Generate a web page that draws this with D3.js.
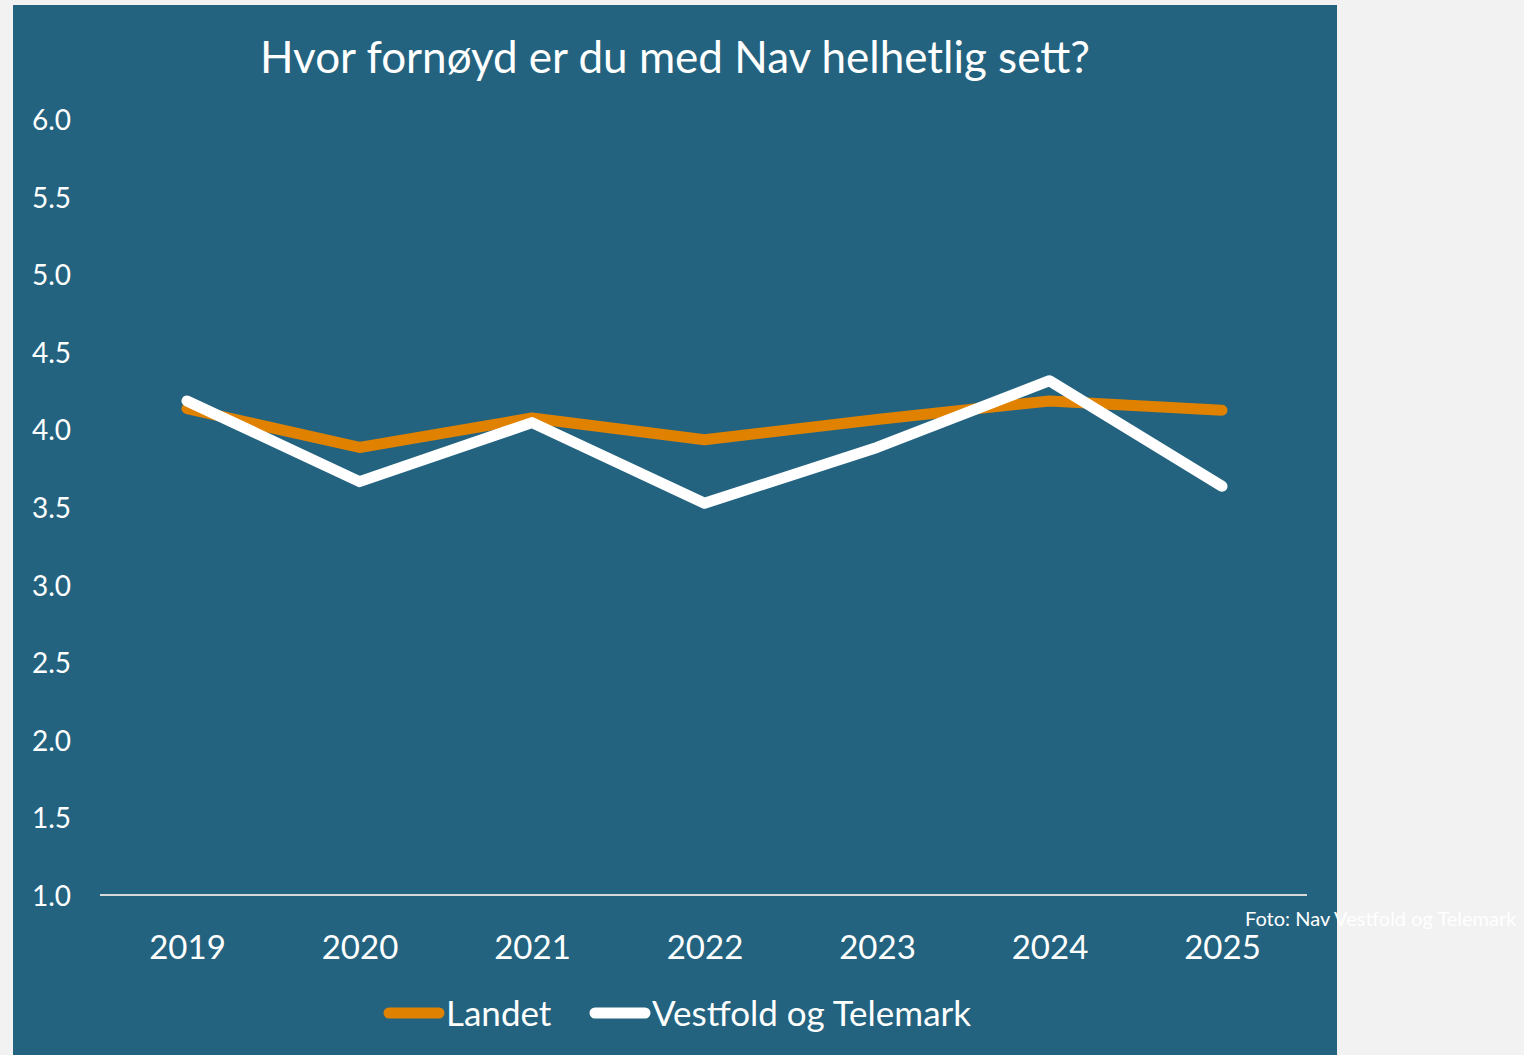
<!DOCTYPE html>
<html>
<head>
<meta charset="utf-8">
<script src="https://cdn.jsdelivr.net/npm/d3@7"></script>
<style>
  body { margin: 0; background: #f2f2f2; }
  svg { display: block; font-family: Lato, "Open Sans", sans-serif; }
</style>
</head>
<body>
<div id="chart"></div>
<script>
var years = ["2019", "2020", "2021", "2022", "2023", "2024", "2025"];
var landet = [4.14, 3.89, 4.08, 3.94, 4.07, 4.19, 4.13];
var vestfold = [4.19, 3.67, 4.05, 3.53, 3.89, 4.32, 3.64];
var yTicks = [1.0, 1.5, 2.0, 2.5, 3.0, 3.5, 4.0, 4.5, 5.0, 5.5, 6.0];

var svgWidth = 1524;
var svgHeight = 1055;

var svg = d3.select("#chart")
  .append("svg")
  .attr("width", svgWidth)
  .attr("height", svgHeight);

svg.append("rect")
  .attr("width", svgWidth).attr("height", svgHeight)
  .attr("fill", "#f2f2f2");

// dark panel
svg.append("rect")
  .attr("x", 13).attr("y", 5)
  .attr("width", 1324).attr("height", 1050)
  .attr("fill", "#23637f");

var x = d3.scalePoint()
  .domain(years)
  .range([187, 1222]);

var y = d3.scaleLinear()
  .domain([1, 6])
  .range([896, 120]);

// title
svg.append("text")
  .attr("x", 675).attr("y", 73)
  .attr("text-anchor", "middle")
  .attr("fill", "#fff")
  .style("font-size", "44px")
  .text("Hvor fornøyd er du med Nav helhetlig sett?");

// y axis labels
svg.append("g")
  .selectAll("text")
  .data(yTicks)
  .enter()
  .append("text")
  .attr("x", 71)
  .attr("y", d => y(d))
  .attr("dy", "0.36em")
  .attr("text-anchor", "end")
  .attr("fill", "#fff")
  .style("font-size", "28px")
  .text(d => d.toFixed(1));

// baseline
svg.append("line")
  .attr("x1", 100).attr("x2", 1307)
  .attr("y1", y(1) - 1).attr("y2", y(1) - 1)
  .attr("stroke", "#d9d9d9")
  .attr("stroke-width", 2);

// x labels
var xAxis = svg.append("g")
  .attr("transform", "translate(0, 896)")
  .call(d3.axisBottom(x).tickSize(0).tickPadding(0));
xAxis.select(".domain").remove();
xAxis.selectAll("text")
  .attr("y", 63)
  .attr("dy", 0)
  .attr("fill", "#fff")
  .style("font-family", "Lato, 'Open Sans', sans-serif")
  .style("font-size", "33px");

var line = d3.line()
  .x((d, i) => x(years[i]))
  .y(d => y(d));

svg.append("path")
  .datum(landet)
  .attr("d", line)
  .attr("fill", "none")
  .attr("stroke", "#e08200")
  .attr("stroke-width", 11)
  .attr("stroke-linecap", "round")
  .attr("stroke-linejoin", "round");

svg.append("path")
  .datum(vestfold)
  .attr("d", line)
  .attr("fill", "none")
  .attr("stroke", "#ffffff")
  .attr("stroke-width", 11)
  .attr("stroke-linecap", "round")
  .attr("stroke-linejoin", "round");

// legend
var legend = [
  { name: "Landet", color: "#e08200", x: 389 },
  { name: "Vestfold og Telemark", color: "#ffffff", x: 595 }
];
var lg = svg.append("g").selectAll("g")
  .data(legend)
  .enter()
  .append("g")
  .attr("transform", d => `translate(${d.x}, 1013)`);
lg.append("line")
  .attr("x1", 0).attr("x2", 50)
  .attr("stroke", d => d.color)
  .attr("stroke-width", 11)
  .attr("stroke-linecap", "round");
lg.append("text")
  .attr("x", 57)
  .attr("y", 13)
  .attr("fill", "#fff")
  .style("font-size", "35px")
  .text(d => d.name);

// photo credit
svg.append("text")
  .attr("x", 1245).attr("y", 926)
  .attr("fill", "#fff")
  .style("font-size", "20px")
  .text("Foto: Nav Vestfold og Telemark");
</script>
</body>
</html>
